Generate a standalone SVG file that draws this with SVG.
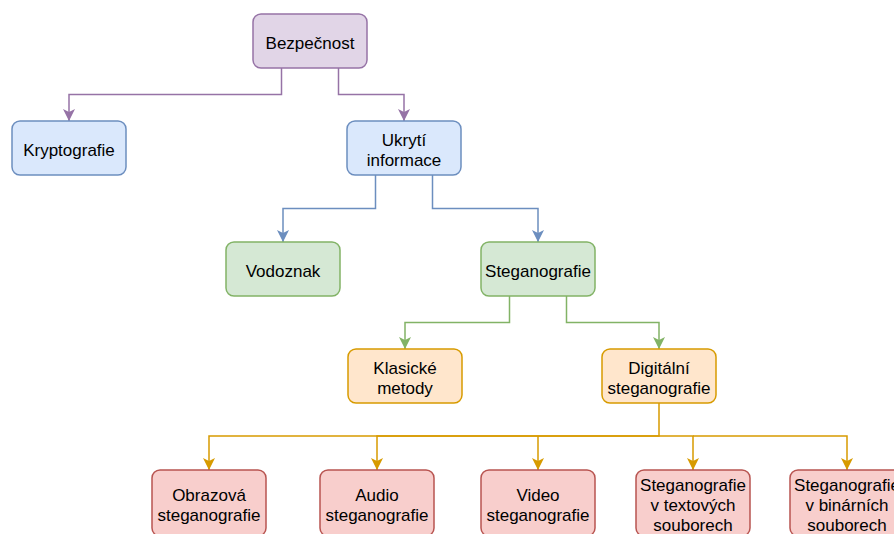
<svg xmlns="http://www.w3.org/2000/svg" width="894" height="534" viewBox="0 0 894 534">
<style>
.n rect{stroke-width:1.5}
.purple rect{fill:#e1d5e7;stroke:#9673a6}
.blue rect{fill:#dae8fc;stroke:#6c8ebf}
.green rect{fill:#d5e8d4;stroke:#82b366}
.orange rect{fill:#ffe6cc;stroke:#d79b00}
.red rect{fill:#f8cecc;stroke:#b85450}
text{font-family:"Liberation Sans",Arial,Helvetica,sans-serif;font-size:17px;fill:#000;text-anchor:middle}
.e path{fill:none;stroke-width:1.5}
.ep path{stroke:#9673a6}
.eb path{stroke:#6c8ebf}
.eg path{stroke:#82b366}
.eo path{stroke:#d79b00}
</style>
<defs>
<marker id="ap" viewBox="0 0 12 12" refX="12" refY="6" markerWidth="12" markerHeight="12" markerUnits="userSpaceOnUse" orient="auto"><path d="M0,0 L12,6 L0,12 L3,6 Z" fill="#9673a6"/></marker>
<marker id="ab" viewBox="0 0 12 12" refX="12" refY="6" markerWidth="12" markerHeight="12" markerUnits="userSpaceOnUse" orient="auto"><path d="M0,0 L12,6 L0,12 L3,6 Z" fill="#6c8ebf"/></marker>
<marker id="ag" viewBox="0 0 12 12" refX="12" refY="6" markerWidth="12" markerHeight="12" markerUnits="userSpaceOnUse" orient="auto"><path d="M0,0 L12,6 L0,12 L3,6 Z" fill="#82b366"/></marker>
<marker id="ao" viewBox="0 0 12 12" refX="12" refY="6" markerWidth="12" markerHeight="12" markerUnits="userSpaceOnUse" orient="auto"><path d="M0,0 L12,6 L0,12 L3,6 Z" fill="#d79b00"/></marker>
</defs>
<g id="connectors" class="e">
<g class="ep">
<path d="M281.5,68 V94.5 H69 V121" marker-end="url(#ap)"/>
<path d="M338.5,68 V94.5 H404 V121" marker-end="url(#ap)"/>
</g>
<g class="eb">
<path d="M375.5,175 V208.5 H283 V242" marker-end="url(#ab)"/>
<path d="M432.5,175 V208.5 H538 V242" marker-end="url(#ab)"/>
</g>
<g class="eg">
<path d="M509.5,296 V322.5 H405 V349" marker-end="url(#ag)"/>
<path d="M566.5,296 V322.5 H659 V349" marker-end="url(#ag)"/>
</g>
<g class="eo">
<path d="M659,403 V436 H209 V470" marker-end="url(#ao)"/>
<path d="M659,436 H377 V470" marker-end="url(#ao)"/>
<path d="M538,436 V470" marker-end="url(#ao)"/>
<path d="M659,436 H693 V470" marker-end="url(#ao)"/>
<path d="M693,436 H847 V470" marker-end="url(#ao)"/>
</g>
</g>
<g id="bezpecnost" class="n purple"><rect x="253" y="14" width="114" height="54" rx="8"/><text x="310" y="49">Bezpečnost</text></g>
<g id="kryptografie" class="n blue"><rect x="12" y="121" width="114" height="54" rx="8"/><text x="69" y="156">Kryptografie</text></g>
<g id="ukryti" class="n blue"><rect x="347" y="121" width="114" height="54" rx="8"/><text x="404" y="146">Ukrytí</text><text x="404" y="166">informace</text></g>
<g id="vodoznak" class="n green"><rect x="226" y="242" width="114" height="54" rx="8"/><text x="283" y="277">Vodoznak</text></g>
<g id="steganografie" class="n green"><rect x="481" y="242" width="114" height="54" rx="8"/><text x="538" y="277">Steganografie</text></g>
<g id="klasicke" class="n orange"><rect x="348" y="349" width="114" height="54" rx="8"/><text x="405" y="374">Klasické</text><text x="405" y="394">metody</text></g>
<g id="digitalni" class="n orange"><rect x="602" y="349" width="114" height="54" rx="8"/><text x="659" y="374">Digitální</text><text x="659" y="394">steganografie</text></g>
<g id="obrazova" class="n red"><rect x="152" y="470" width="114" height="66" rx="8"/><text x="209" y="501">Obrazová</text><text x="209" y="521">steganografie</text></g>
<g id="audio" class="n red"><rect x="320" y="470" width="114" height="66" rx="8"/><text x="377" y="501">Audio</text><text x="377" y="521">steganografie</text></g>
<g id="video" class="n red"><rect x="481" y="470" width="114" height="66" rx="8"/><text x="538" y="501">Video</text><text x="538" y="521">steganografie</text></g>
<g id="textove" class="n red"><rect x="636" y="470" width="114" height="66" rx="8"/><text x="693" y="491">Steganografie</text><text x="693" y="511">v textových</text><text x="693" y="531">souborech</text></g>
<g id="binarni" class="n red"><rect x="790" y="470" width="114" height="66" rx="8"/><text x="847" y="491">Steganografie</text><text x="847" y="511">v binárních</text><text x="847" y="531">souborech</text></g>
</svg>
